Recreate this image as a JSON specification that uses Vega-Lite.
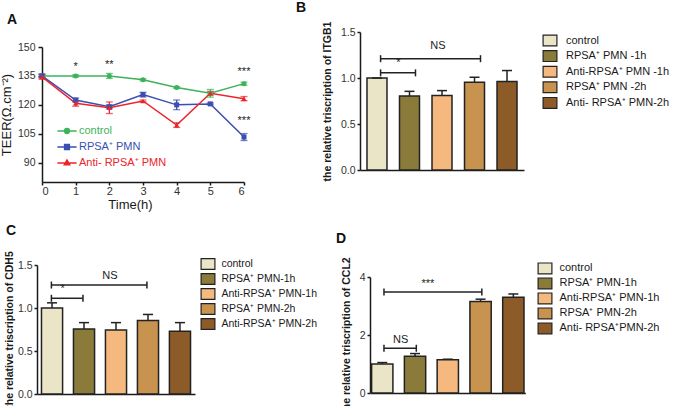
{
 "$schema": "https://vega.github.io/schema/vega-lite/v6.json",
 "padding": {"left": 0, "top": 0, "right": 0, "bottom": 0},
 "background": "white",
 "config": {
  "font": "Liberation Sans",
  "view": {"stroke": null},
  "axis": {"grid": false, "domainColor": "#1a1a1a", "domainWidth": 1.5, "tickColor": "#1a1a1a", "tickWidth": 1.5, "tickSize": 4, "labelColor": "#333333", "labelFontSize": 10.5, "labelFont": "Liberation Sans", "titleFont": "Liberation Sans", "titleColor": "#1a1a1a"},
  "legend": {"labelFont": "Liberation Sans", "labelColor": "#1a1a1a", "padding": 0, "labelLimit": 0},
  "title": {"fontSize": 14, "fontWeight": "bold", "anchor": "start", "frame": "group", "color": "#111111", "font": "Liberation Sans", "offset": 0}
 },
 "datasets": {
  "teer": [
   {"series": "control", "t": 0, "v": 135, "err": 0.8},
   {"series": "control", "t": 1, "v": 135, "err": 0.6},
   {"series": "control", "t": 2, "v": 135, "err": 1.3},
   {"series": "control", "t": 3, "v": 133, "err": 0.5},
   {"series": "control", "t": 4, "v": 129, "err": 0.5},
   {"series": "control", "t": 5, "v": 126, "err": 2},
   {"series": "control", "t": 6, "v": 131, "err": 0.8},
   {"series": "RPSA⁺ PMN", "t": 0, "v": 135, "err": 1},
   {"series": "RPSA⁺ PMN", "t": 1, "v": 122.5, "err": 1},
   {"series": "RPSA⁺ PMN", "t": 2, "v": 119, "err": 1},
   {"series": "RPSA⁺ PMN", "t": 3, "v": 125.3, "err": 1.2},
   {"series": "RPSA⁺ PMN", "t": 4, "v": 120, "err": 2.5},
   {"series": "RPSA⁺ PMN", "t": 5, "v": 120.5, "err": 0.5},
   {"series": "RPSA⁺ PMN", "t": 6, "v": 103.3, "err": 1.8},
   {"series": "Anti- RPSA⁺ PMN", "t": 0, "v": 134.5, "err": 1.2},
   {"series": "Anti- RPSA⁺ PMN", "t": 1, "v": 120.8, "err": 1.5},
   {"series": "Anti- RPSA⁺ PMN", "t": 2, "v": 118.5, "err": 3},
   {"series": "Anti- RPSA⁺ PMN", "t": 3, "v": 122, "err": 0.5},
   {"series": "Anti- RPSA⁺ PMN", "t": 4, "v": 109.5, "err": 1.2},
   {"series": "Anti- RPSA⁺ PMN", "t": 5, "v": 126, "err": 1},
   {"series": "Anti- RPSA⁺ PMN", "t": 6, "v": 123.2, "err": 1.1}
  ],
  "teerStars": [
   {"t": 1, "v": 137.9, "s": "*"},
   {"t": 2, "v": 139.3, "s": "**"},
   {"t": 6, "v": 135.4, "s": "***"},
   {"t": 6, "v": 110.3, "s": "***"}
  ],
  "itgb1": [
   {"g": "control", "v": 1.0, "hi": 1.0},
   {"g": "RPSA⁺ PMN -1h", "v": 0.805, "hi": 0.855},
   {"g": "Anti-RPSA⁺ PMN -1h", "v": 0.81, "hi": 0.863},
   {"g": "RPSA⁺ PMN -2h", "v": 0.954, "hi": 1.008},
   {"g": "Anti- RPSA⁺ PMN-2h", "v": 0.961, "hi": 1.081}
  ],
  "cdh5": [
   {"g": "control", "v": 1.0, "hi": 1.06},
   {"g": "RPSA⁺ PMN-1h", "v": 0.755, "hi": 0.83},
   {"g": "Anti-RPSA⁺ PMN-1h", "v": 0.745, "hi": 0.83},
   {"g": "RPSA⁺ PMN-2h", "v": 0.855, "hi": 0.925},
   {"g": "Anti-RPSA⁺ PMN-2h", "v": 0.73, "hi": 0.83}
  ],
  "ccl2": [
   {"g": "control", "v": 1.0, "hi": 1.05},
   {"g": "RPSA⁺ PMN-1h", "v": 1.27, "hi": 1.36},
   {"g": "Anti-RPSA⁺ PMN-1h", "v": 1.145, "hi": 1.165},
   {"g": "RPSA⁺ PMN-2h", "v": 3.155, "hi": 3.235},
   {"g": "Anti- RPSA⁺PMN-2h", "v": 3.30, "hi": 3.415}
  ]
 },
 "resolve": {"scale": {"color": "independent"}, "legend": {"color": "independent"}},
 "columns": 2,
 "bounds": "flush",
 "align": "all",
 "spacing": {"row": 83, "column": 116},
 "concat": [
  {
   "width": 207, "height": 150,
   "title": {"text": "A", "dx": -30, "dy": -1},
   "data": {"name": "teer"},
   "encoding": {
    "x": {"field": "t", "type": "quantitative", "scale": {"domain": [0, 6], "nice": false, "range": [5, 207]}, "axis": {"values": [0, 1, 2, 3, 4, 5, 6], "format": "d", "title": "Time(h)", "titleFontSize": 13, "titleFontWeight": "normal", "titlePadding": 2, "titleX": 93, "labelFontSize": 11, "labelPadding": 0, "tickSize": 3}},
    "y": {"field": "v", "type": "quantitative", "scale": {"domain": [80, 150], "nice": false, "zero": false, "range": [150, 15]}, "axis": {"offset": -5, "values": [90, 105, 120, 135, 150], "title": "TEER(Ω.cm⁻²)", "titleFontSize": 13, "titleFontWeight": "normal", "labelPadding": 3, "titlePadding": 4}}
   },
   "layer": [
    {
     "mark": {"type": "line", "strokeWidth": 1.5},
     "encoding": {
      "color": {"field": "series", "type": "nominal",
       "scale": {"domain": ["control", "RPSA⁺ PMN", "Anti- RPSA⁺ PMN"], "range": ["#3cb35a", "#3a4faf", "#ee2229"]},
       "legend": {
        "title": null, "orient": "none", "legendX": 23, "legendY": 92,
        "labelFontSize": 11, "labelOffset": 5, "rowPadding": 3, "symbolSize": 144,
        "symbolType": {"expr": "datum.value == 'control' ? 'M-1.6,0H1.6M-0.4,0A0.4,0.4,0,1,1,0.4,0A0.4,0.4,0,1,1,-0.4,0Z' : datum.value == 'RPSA⁺ PMN' ? 'M-1.6,0H1.6M-0.4,-0.4H0.4V0.4H-0.4Z' : 'M-1.6,0H1.6M0,-0.5L0.45,0.3H-0.45Z'"},
        "encode": {
         "symbols": {"update": {
          "shape": {"signal": "datum.value == 'control' ? 'M-1.6,0H1.6M-0.4,0A0.4,0.4,0,1,1,0.4,0A0.4,0.4,0,1,1,-0.4,0Z' : datum.value == 'RPSA⁺ PMN' ? 'M-1.6,0H1.6M-0.4,-0.4H0.4V0.4H-0.4Z' : 'M-1.6,0H1.6M0,-0.5L0.45,0.3H-0.45Z'"},
          "stroke": {"signal": "datum.value == 'control' ? '#3cb35a' : datum.value == 'RPSA⁺ PMN' ? '#3a4faf' : '#ee2229'"},
          "fill": {"signal": "datum.value == 'control' ? '#3cb35a' : datum.value == 'RPSA⁺ PMN' ? '#3a4faf' : '#ee2229'"},
          "strokeWidth": {"value": 1.5},
          "size": {"value": 144},
          "opacity": {"value": 1}
         }},
         "labels": {"update": {
          "fill": {"signal": "datum.value == 'control' ? '#3cb35a' : datum.value == 'RPSA⁺ PMN' ? '#3a4faf' : '#ee2229'"}
         }}
        }
       }
      }
     }
    },
    {
     "mark": {"type": "errorbar", "ticks": {"size": 7, "thickness": 1.3}, "thickness": 1.3},
     "encoding": {"yError": {"field": "err"}, "color": {"field": "series", "type": "nominal"}}
    },
    {
     "transform": [{"filter": "datum.series == 'control'"}],
     "mark": {"type": "point", "shape": "circle", "filled": true, "opacity": 1, "size": 25, "color": "#3cb35a"}
    },
    {
     "transform": [{"filter": "datum.series == 'RPSA⁺ PMN'"}],
     "mark": {"type": "point", "shape": "square", "filled": true, "opacity": 1, "size": 25, "color": "#3a4faf"}
    },
    {
     "transform": [{"filter": "datum.series == 'Anti- RPSA⁺ PMN'"}],
     "mark": {"type": "point", "shape": "triangle-up", "filled": true, "opacity": 1, "size": 28, "color": "#ee2229"}
    },
    {
     "data": {"name": "teerStars"},
     "mark": {"type": "text", "fontSize": 11, "baseline": "alphabetic", "color": "#222222"},
     "encoding": {"text": {"field": "s"}}
    }
   ]
  },
  {
   "width": 164, "height": 138,
   "title": {"text": "B", "dx": -64, "dy": -2.5},
   "layer": [
    {
     "data": {"name": "itgb1"},
     "mark": {"type": "bar", "stroke": "#222222", "strokeWidth": 1.5},
     "encoding": {
      "x": {"field": "g", "type": "nominal", "sort": null, "scale": {"domain": ["control", "RPSA⁺ PMN -1h", "Anti-RPSA⁺ PMN -1h", "RPSA⁺ PMN -2h", "Anti- RPSA⁺ PMN-2h"], "paddingInner": 0.385, "paddingOuter": 0.215}, "axis": {"title": null, "labels": false, "ticks": false}},
      "y": {"field": "v", "type": "quantitative", "scale": {"domain": [0, 1.5], "nice": false}, "axis": {"values": [0, 0.5, 1, 1.5], "format": ".1f", "title": "the relative triscription of ITGB1", "titleFontSize": 10.5, "titleFontWeight": "bold", "tickSize": 3, "labelPadding": 2, "titlePadding": 8}},
      "color": {"field": "g", "type": "nominal", "scale": {"domain": ["control", "RPSA⁺ PMN -1h", "Anti-RPSA⁺ PMN -1h", "RPSA⁺ PMN -2h", "Anti- RPSA⁺ PMN-2h"], "range": ["#ebe5c7", "#8a7b3a", "#f5b97f", "#c8924f", "#8d5b27"]},
       "legend": {"title": null, "orient": "none", "legendX": 183, "legendY": 1.5, "symbolType": "M-1.15,-0.9H1.15V0.9H-1.15Z", "symbolSize": 144, "symbolStrokeColor": "#222222", "symbolStrokeWidth": 1.2, "labelFontSize": 11, "labelOffset": 9, "rowPadding": -0.4}}
     }
    },
    {
     "data": {"name": "itgb1"},
     "mark": {"type": "rule", "strokeWidth": 1.5, "color": "#222222"},
     "encoding": {"x": {"field": "g", "type": "nominal"}, "y": {"field": "v", "type": "quantitative"}, "y2": {"field": "hi"}}
    },
    {
     "data": {"name": "itgb1"},
     "mark": {"type": "tick", "thickness": 1.5, "size": 10, "color": "#222222", "opacity": 1},
     "encoding": {"x": {"field": "g", "type": "nominal"}, "y": {"field": "hi", "type": "quantitative"}}
    },
    {
     "data": {"values": [{"from": "control", "to": "RPSA⁺ PMN -2h", "v": 1.21}, {"from": "control", "to": "RPSA⁺ PMN -1h", "v": 1.056}]},
     "mark": {"type": "rule", "strokeWidth": 1.5, "color": "#222222"},
     "encoding": {"x": {"field": "from", "type": "nominal", "bandPosition": 0.68}, "x2": {"field": "to", "bandPosition": 0.8}, "y": {"field": "v", "type": "quantitative"}}
    },
    {
     "data": {"values": [{"from": "control", "to": "RPSA⁺ PMN -2h", "v": 1.21}, {"from": "control", "to": "RPSA⁺ PMN -1h", "v": 1.056}]},
     "mark": {"type": "point", "shape": "M0,-1V1", "size": 49, "filled": false, "strokeWidth": 1.5, "color": "#222222", "opacity": 1},
     "encoding": {"x": {"field": "from", "type": "nominal", "bandPosition": 0.68}, "y": {"field": "v", "type": "quantitative"}}
    },
    {
     "data": {"values": [{"from": "control", "to": "RPSA⁺ PMN -2h", "v": 1.21}, {"from": "control", "to": "RPSA⁺ PMN -1h", "v": 1.056}]},
     "mark": {"type": "point", "shape": "M0,-1V1", "size": 49, "filled": false, "strokeWidth": 1.5, "color": "#222222", "opacity": 1},
     "encoding": {"x": {"field": "to", "type": "nominal", "bandPosition": 0.8}, "y": {"field": "v", "type": "quantitative"}}
    },
    {
     "data": {"values": [{"at": "Anti-RPSA⁺ PMN -1h", "v": 1.312, "s": "NS"}]},
     "mark": {"type": "text", "fontSize": 11, "baseline": "alphabetic", "color": "#222222"},
     "encoding": {"x": {"field": "at", "type": "nominal", "bandPosition": 0.3}, "y": {"field": "v", "type": "quantitative"}, "text": {"field": "s"}}
    },
    {
     "data": {"values": [{"at": "RPSA⁺ PMN -1h", "v": 1.13, "s": "*"}]},
     "mark": {"type": "text", "fontSize": 11, "baseline": "alphabetic", "color": "#222222"},
     "encoding": {"x": {"field": "at", "type": "nominal", "bandPosition": -0.05}, "y": {"field": "v", "type": "quantitative"}, "text": {"field": "s"}}
    }
   ]
  },
  {
   "width": 158, "height": 129,
   "title": {"text": "C", "dx": -31, "dy": -9},
   "layer": [
    {
     "data": {"name": "cdh5"},
     "mark": {"type": "bar", "stroke": "#222222", "strokeWidth": 1.5},
     "encoding": {
      "x": {"field": "g", "type": "nominal", "sort": null, "scale": {"domain": ["control", "RPSA⁺ PMN-1h", "Anti-RPSA⁺ PMN-1h", "RPSA⁺ PMN-2h", "Anti-RPSA⁺ PMN-2h"], "paddingInner": 0.34, "paddingOuter": 0.14}, "axis": {"title": null, "labels": false, "ticks": false}},
      "y": {"field": "v", "type": "quantitative", "scale": {"domain": [0, 1.5], "nice": false}, "axis": {"values": [0, 0.5, 1, 1.5], "format": ".1f", "title": "the relative triscription of CDH5", "titleFontSize": 10.5, "titleFontWeight": "bold", "tickSize": 3, "labelPadding": 2, "titlePadding": 3}},
      "color": {"field": "g", "type": "nominal", "scale": {"domain": ["control", "RPSA⁺ PMN-1h", "Anti-RPSA⁺ PMN-1h", "RPSA⁺ PMN-2h", "Anti-RPSA⁺ PMN-2h"], "range": ["#ebe5c7", "#8a7b3a", "#f5b97f", "#c8924f", "#8d5b27"]},
       "legend": {"title": null, "orient": "none", "legendX": 164, "legendY": -8, "symbolType": "M-1.15,-0.9H1.15V0.9H-1.15Z", "symbolSize": 144, "symbolStrokeColor": "#222222", "symbolStrokeWidth": 1.2, "labelFontSize": 10.5, "labelOffset": 6.4, "rowPadding": -1.8}}
     }
    },
    {
     "data": {"name": "cdh5"},
     "mark": {"type": "rule", "strokeWidth": 1.5, "color": "#222222"},
     "encoding": {"x": {"field": "g", "type": "nominal"}, "y": {"field": "v", "type": "quantitative"}, "y2": {"field": "hi"}}
    },
    {
     "data": {"name": "cdh5"},
     "mark": {"type": "tick", "thickness": 1.5, "size": 10, "color": "#222222", "opacity": 1},
     "encoding": {"x": {"field": "g", "type": "nominal"}, "y": {"field": "hi", "type": "quantitative"}}
    },
    {
     "data": {"values": [{"from": "control", "to": "RPSA⁺ PMN-2h", "v": 1.267}, {"from": "control", "to": "RPSA⁺ PMN-1h", "v": 1.113}]},
     "mark": {"type": "rule", "strokeWidth": 1.5, "color": "#222222"},
     "encoding": {"x": {"field": "from", "type": "nominal", "bandPosition": 0.47}, "x2": {"field": "to", "bandPosition": 0.45}, "y": {"field": "v", "type": "quantitative"}}
    },
    {
     "data": {"values": [{"from": "control", "to": "RPSA⁺ PMN-2h", "v": 1.267}, {"from": "control", "to": "RPSA⁺ PMN-1h", "v": 1.113}]},
     "mark": {"type": "point", "shape": "M0,-1V1", "size": 49, "filled": false, "strokeWidth": 1.5, "color": "#222222", "opacity": 1},
     "encoding": {"x": {"field": "from", "type": "nominal", "bandPosition": 0.47}, "y": {"field": "v", "type": "quantitative"}}
    },
    {
     "data": {"values": [{"from": "control", "to": "RPSA⁺ PMN-2h", "v": 1.267}, {"from": "control", "to": "RPSA⁺ PMN-1h", "v": 1.113}]},
     "mark": {"type": "point", "shape": "M0,-1V1", "size": 49, "filled": false, "strokeWidth": 1.5, "color": "#222222", "opacity": 1},
     "encoding": {"x": {"field": "to", "type": "nominal", "bandPosition": 0.45}, "y": {"field": "v", "type": "quantitative"}}
    },
    {
     "data": {"values": [{"at": "Anti-RPSA⁺ PMN-1h", "v": 1.337, "s": "NS"}]},
     "mark": {"type": "text", "fontSize": 11, "baseline": "alphabetic", "color": "#222222"},
     "encoding": {"x": {"field": "at", "type": "nominal", "bandPosition": 0.21}, "y": {"field": "v", "type": "quantitative"}, "text": {"field": "s"}}
    },
    {
     "data": {"values": [{"at": "control", "v": 1.19, "s": "*"}]},
     "mark": {"type": "text", "fontSize": 11, "baseline": "alphabetic", "color": "#222222"},
     "encoding": {"x": {"field": "at", "type": "nominal", "bandPosition": 1.0}, "y": {"field": "v", "type": "quantitative"}, "text": {"field": "s"}}
    }
   ]
  },
  {
   "width": 165, "height": 128,
   "title": {"text": "D", "dx": -24, "dy": -7},
   "layer": [
    {
     "data": {"name": "ccl2"},
     "mark": {"type": "bar", "stroke": "#222222", "strokeWidth": 1.5},
     "encoding": {
      "x": {"field": "g", "type": "nominal", "sort": null, "scale": {"domain": ["control", "RPSA⁺ PMN-1h", "Anti-RPSA⁺ PMN-1h", "RPSA⁺ PMN-2h", "Anti- RPSA⁺PMN-2h"], "range": [10.3, 165.3], "paddingInner": 0.35, "paddingOuter": 0.04}, "axis": {"title": null, "labels": false, "ticks": false}},
      "y": {"field": "v", "type": "quantitative", "scale": {"domain": [0, 4], "nice": false, "range": [128, 12]}, "axis": {"offset": -10, "values": [0, 1, 2, 3, 4], "format": "d", "title": "the relative triscription of CCL2", "titleFontSize": 10.5, "titleFontWeight": "bold", "tickSize": 3, "labelPadding": 2, "titlePadding": 8}},
      "color": {"field": "g", "type": "nominal", "scale": {"domain": ["control", "RPSA⁺ PMN-1h", "Anti-RPSA⁺ PMN-1h", "RPSA⁺ PMN-2h", "Anti- RPSA⁺PMN-2h"], "range": ["#ebe5c7", "#8a7b3a", "#f5b97f", "#c8924f", "#8d5b27"]},
       "legend": {"title": null, "orient": "none", "legendX": 178, "legendY": -3.6, "symbolType": "M-1.15,-0.9H1.15V0.9H-1.15Z", "symbolSize": 144, "symbolStrokeColor": "#222222", "symbolStrokeWidth": 1.2, "labelFontSize": 11, "labelOffset": 7.5, "rowPadding": -1.75}}
     }
    },
    {
     "data": {"name": "ccl2"},
     "mark": {"type": "rule", "strokeWidth": 1.5, "color": "#222222"},
     "encoding": {"x": {"field": "g", "type": "nominal"}, "y": {"field": "v", "type": "quantitative"}, "y2": {"field": "hi"}}
    },
    {
     "data": {"name": "ccl2"},
     "mark": {"type": "tick", "thickness": 1.5, "size": 10, "color": "#222222", "opacity": 1},
     "encoding": {"x": {"field": "g", "type": "nominal"}, "y": {"field": "hi", "type": "quantitative"}}
    },
    {
     "data": {"values": [{"from": "control", "to": "RPSA⁺ PMN-2h", "v": 3.486}, {"from": "control", "to": "RPSA⁺ PMN-1h", "v": 1.543}]},
     "mark": {"type": "rule", "strokeWidth": 1.5, "color": "#222222"},
     "encoding": {"x": {"field": "from", "type": "nominal", "bandPosition": 0.58}, "x2": {"field": "to", "bandPosition": 0.56}, "y": {"field": "v", "type": "quantitative"}}
    },
    {
     "data": {"values": [{"from": "control", "to": "RPSA⁺ PMN-2h", "v": 3.486}, {"from": "control", "to": "RPSA⁺ PMN-1h", "v": 1.543}]},
     "mark": {"type": "point", "shape": "M0,-1V1", "size": 49, "filled": false, "strokeWidth": 1.5, "color": "#222222", "opacity": 1},
     "encoding": {"x": {"field": "from", "type": "nominal", "bandPosition": 0.58}, "y": {"field": "v", "type": "quantitative"}}
    },
    {
     "data": {"values": [{"from": "control", "to": "RPSA⁺ PMN-2h", "v": 3.486}, {"from": "control", "to": "RPSA⁺ PMN-1h", "v": 1.543}]},
     "mark": {"type": "point", "shape": "M0,-1V1", "size": 49, "filled": false, "strokeWidth": 1.5, "color": "#222222", "opacity": 1},
     "encoding": {"x": {"field": "to", "type": "nominal", "bandPosition": 0.56}, "y": {"field": "v", "type": "quantitative"}}
    },
    {
     "data": {"values": [{"at": "RPSA⁺ PMN-1h", "v": 3.67, "s": "***"}]},
     "mark": {"type": "text", "fontSize": 11, "baseline": "alphabetic", "color": "#222222"},
     "encoding": {"x": {"field": "at", "type": "nominal", "bandPosition": 1.1}, "y": {"field": "v", "type": "quantitative"}, "text": {"field": "s"}}
    },
    {
     "data": {"values": [{"at": "RPSA⁺ PMN-1h", "v": 1.716, "s": "NS"}]},
     "mark": {"type": "text", "fontSize": 11, "baseline": "alphabetic", "color": "#222222"},
     "encoding": {"x": {"field": "at", "type": "nominal", "bandPosition": -0.17}, "y": {"field": "v", "type": "quantitative"}, "text": {"field": "s"}}
    }
   ]
  }
 ]
}
